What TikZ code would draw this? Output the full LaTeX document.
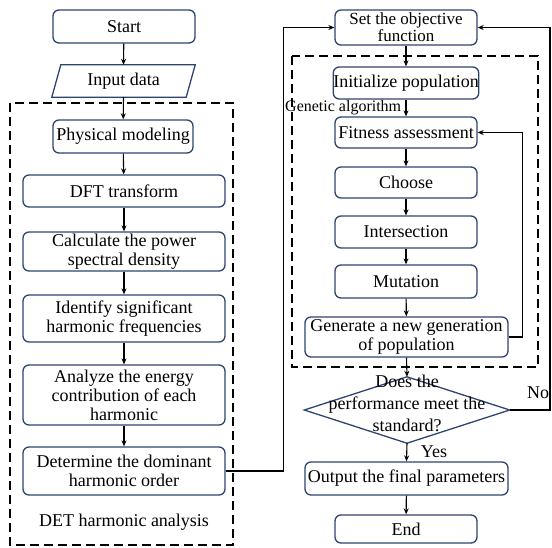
\documentclass[tikz,border=0pt]{standalone}
\usepackage{fontspec}
\setmainfont{Liberation Serif}
\usetikzlibrary{arrows.meta}
\definecolor{boxblue}{HTML}{2E4470}
\begin{document}
\begin{tikzpicture}[x=1pt,y=-1pt,
  box/.style={draw=boxblue, line width=1.3pt, rounded corners=6pt, fill=white, align=center, inner sep=0pt, font=\rmfamily\fontsize{18}{19}\selectfont},
  arr/.style={draw=black, line width=1.1pt, -{Stealth[length=6pt,width=5pt]}},
  dbox/.style={draw=black, line width=1.4pt, dash pattern=on 9pt off 5pt},
  lbl/.style={inner sep=0pt, font=\rmfamily\fontsize{18}{19}\selectfont, align=center}]
\useasboundingbox (0,0) rectangle (552,547);
% dashed groups
\draw[dbox] (10,103) rectangle (233,545);
\draw[dbox] (292,56) rectangle (538,367);
% left column
\node[box, minimum width=142pt, minimum height=33pt] (start) at (124,26.5) {Start};
\node[lbl, minimum width=143pt, minimum height=32pt] (input) at (123.5,81) {Input data};
\draw[boxblue, line width=1.3pt] ([xshift=9pt]input.north west) -- (input.north east) -- ([xshift=-9pt]input.south east) -- (input.south west) -- cycle;
\node[box, minimum width=140pt, minimum height=33pt] (phys) at (123,136.5) {Physical modeling};
\node[box, minimum width=202pt, minimum height=32pt] (dft) at (124,191) {DFT transform};
\node[box, minimum width=202pt, minimum height=39pt] (psd) at (124,251.5) {Calculate the power\\spectral density};
\node[box, minimum width=202pt, minimum height=47pt] (ident) at (124,318.5) {Identify significant\\harmonic frequencies};
\node[box, minimum width=202pt, minimum height=60pt] (anal) at (124,395) {Analyze the energy\\contribution of each\\harmonic};
\node[box, minimum width=202pt, minimum height=48pt] (det) at (124,471) {Determine the dominant\\harmonic order};
\node[lbl] (detlbl) at (124,522) {DET harmonic analysis};
% right column
\node[box, minimum width=142pt, minimum height=35pt, font=\rmfamily\fontsize{17}{17}\selectfont] (set) at (406,27.5) {Set the objective\\function};
\node[box, minimum width=142pt, minimum height=32pt] (init) at (406,83) {Initialize population};
\node[lbl, anchor=west, font=\rmfamily\fontsize{16}{16}\selectfont] (galbl) at (285,108) {Genetic algorithm};
\node[box, minimum width=142pt, minimum height=31pt] (fit) at (406,132.5) {Fitness assessment};
\node[box, minimum width=142pt, minimum height=31pt] (choose) at (406,182.5) {Choose};
\node[box, minimum width=142pt, minimum height=32pt] (inter) at (406,232) {Intersection};
\node[box, minimum width=142pt, minimum height=33pt] (mut) at (406,281.5) {Mutation};
\node[box, minimum width=203pt, minimum height=40pt] (gen) at (406.5,337) {Generate a new generation\\of population};
\node[inner sep=0pt, minimum width=205pt, minimum height=66pt] (dec) at (407,410) {};
\draw[boxblue, line width=1.3pt] (dec.north) -- (dec.east) -- (dec.south) -- (dec.west) -- cycle;
\node[lbl, font=\rmfamily\fontsize{18}{22}\selectfont] (dectext) at (407,403) {Does the\\performance meet the\\standard?};
\node[box, minimum width=203pt, minimum height=33pt] (out) at (406.5,478.5) {Output the final parameters};
\node[box, minimum width=142pt, minimum height=28pt] (endn) at (406,529) {End};
\node[lbl] (yes) at (434,452) {Yes};
\node[lbl] (no) at (538,393) {No};
\coordinate (nocorner) at (550,410);
% connectors left
\draw[arr] (start) -- (input.north);
\draw[arr] (input.south) -- (phys);
\draw[arr] (phys) -- (dft);
\draw[arr] (dft) -- (psd);
\draw[arr] (psd) -- (ident);
\draw[arr] (ident) -- (anal);
\draw[arr] (anal) -- (det);
\draw[arr] (det.east) -- ++(58,0) |- (set.west);
% connectors right
\draw[arr] (set) -- (init);
\draw[arr] (init) -- (fit);
\draw[arr] (fit) -- (choose);
\draw[arr] (choose) -- (inter);
\draw[arr] (inter) -- (mut);
\draw[arr] (mut) -- (gen);
\draw[arr] (gen.east) -- ++(14,0) |- (fit.east);
\draw[arr] (gen.south) -- (dec.north);
\draw[arr] (dec.south) -- (out.north);
\draw[arr] (out) -- (endn);
\draw[arr] (dec.east) -- (nocorner) |- (set.east);
\end{tikzpicture}
\end{document}
